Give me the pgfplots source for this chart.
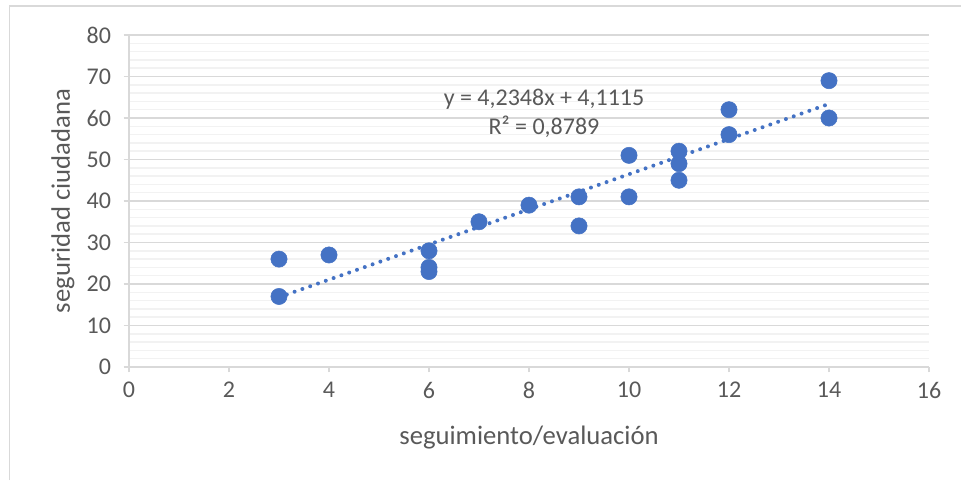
\documentclass[border=0pt]{standalone}
\usepackage{fontspec}
\setmainfont{Carlito}
\usepackage{pgfplots}
\pgfplotsset{compat=1.18}
\definecolor{ptblue}{HTML}{4472C4}
\definecolor{gmaj}{HTML}{D9D9D9}
\definecolor{gmin}{HTML}{F2F2F2}
\definecolor{txt}{HTML}{595959}
\begin{document}
\begin{tikzpicture}
\useasboundingbox (-96.75pt,-84.75pt) rectangle (624pt,275.25pt);
\draw[gmaj, line width=1.1pt] (-89.6pt,-84.75pt) -- (-89.6pt,270.75pt) -- (624pt,270.75pt);
\begin{axis}[
  at={(0pt,0pt)}, anchor=origin,
  scale only axis, width=600pt, height=249pt,
  xmin=0, xmax=16, ymin=0, ymax=80,
  xtick={0,2,...,16}, ytick={0,10,...,80},
  minor y tick num=4,
  axis lines*=left,
  axis line style={draw=gmaj, line width=1pt, -},
  ymajorgrids, yminorgrids,
  major grid style={draw=gmaj, line width=1pt},
  minor grid style={draw=gmin, line width=1.1pt},
  tick align=outside,
  major tick length=4pt, minor tick length=0pt,
  tick style={draw=gmaj, line width=1pt},
  ticklabel style={font=\fontsize{18}{20}\selectfont, text=txt},
  /pgf/number format/assume math mode=true,
  xticklabel style={yshift=-4pt},
  yticklabel style={xshift=-6pt},
  xlabel={seguimiento/evaluación},
  ylabel={seguridad ciudadana},
  label style={font=\fontsize{20}{22}\selectfont, text=txt},
  xlabel style={at={(axis description cs:0.5,-0.211)}, anchor=center},
  ylabel style={at={(axis description cs:-0.0825,0.5)}, anchor=center},
  clip=false,
]
\addplot[only marks, mark=*, mark size=6.1pt, mark options={draw=ptblue, fill=ptblue}] coordinates {
 (3,26) (3,17) (4,27) (6,28) (6,24) (6,23) (7,35) (8,39) (9,41) (9,34)
 (10,51) (10,41) (11,52) (11,49) (11,45) (12,62) (12,56) (14,69) (14,60)
};
\addplot[ptblue, line width=3pt, line cap=round, dash pattern=on 0pt off 6.2pt] coordinates {
 (3,16.8159) (14,63.3987)
};
\node[text=txt, font=\fontsize{18}{20}\selectfont] at (axis cs:8.3,64.6) {y = 4,2348x + 4,1115};
\node[text=txt, font=\fontsize{18}{20}\selectfont] at (axis cs:8.3,57.8) {R² = 0,8789};
\end{axis}
\end{tikzpicture}
\end{document}
